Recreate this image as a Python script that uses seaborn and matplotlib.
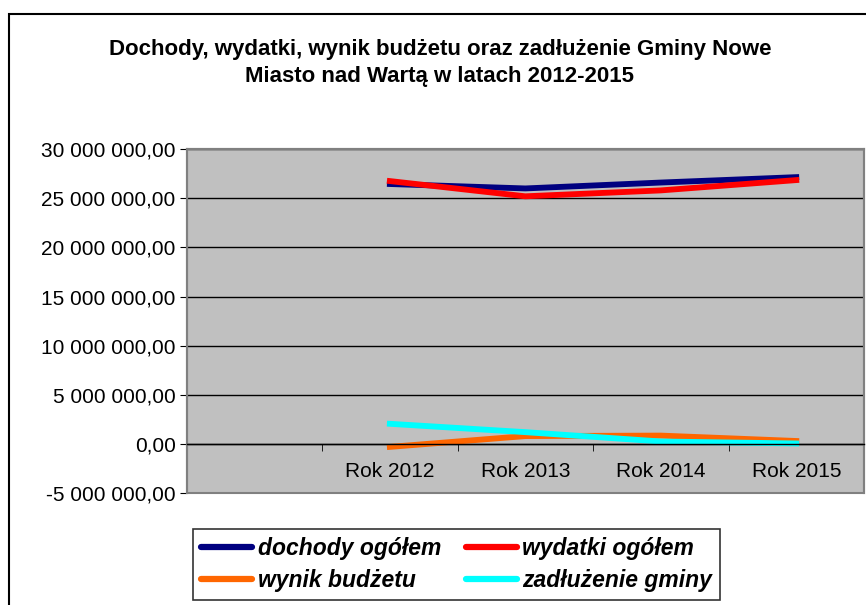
import numpy as np
import pandas as pd
import matplotlib
matplotlib.use("Agg")
import matplotlib.pyplot as plt
from matplotlib.patches import Rectangle
from matplotlib.ticker import FuncFormatter, FixedLocator
import seaborn as sns

# --- dane ---
lata = ["Rok 2012", "Rok 2013", "Rok 2014", "Rok 2015"]
dochody = [26.45e6, 26.0e6, 26.6e6, 27.15e6]
wydatki = [26.75e6, 25.2e6, 25.8e6, 26.85e6]
wynik = [-0.3e6, 0.8e6, 0.85e6, 0.3e6]
zadluzenie = [2.05e6, 1.2e6, 0.25e6, 0.05e6]

serie = ["dochody ogółem", "wydatki ogółem", "wynik budżetu", "zadłużenie gminy"]
kolory = {"dochody ogółem": "#000080", "wydatki ogółem": "#FF0000",
          "wynik budżetu": "#FF6600", "zadłużenie gminy": "#00FFFF"}
tytul = "Dochody, wydatki, wynik budżetu oraz zadłużenie Gminy Nowe\nMiasto nad Wartą w latach 2012-2015"

# pierwsza kategoria pusta, jak w Excelu
kolejnosc = [""] + lata

df = pd.DataFrame({
    "rok": lata * 4,
    "wartosc": dochody + wydatki + wynik + zadluzenie,
    "seria": np.repeat(serie, len(lata)),
})

plt.rcParams["font.family"] = ["Liberation Sans", "DejaVu Sans"]

fig = plt.figure(figsize=(8.66, 6.05), dpi=100)
ax = fig.add_axes([0.2155, 0.185, 0.7822, 0.5685])
ax.set_facecolor("#C0C0C0")

sns.pointplot(data=df, x="rok", y="wartosc", hue="seria", order=kolejnosc,
              hue_order=serie, palette=kolory, markers="", markersize=0,
              errorbar=None, dodge=False, linewidth=4.2, legend=False, ax=ax)

ax.set_ylim(-5e6, 30e6)
ax.set_xlim(-0.5, len(kolejnosc) - 0.5)
ax.set_yticks(np.arange(-5e6, 30e6 + 1, 5e6))
ax.yaxis.set_major_formatter(FuncFormatter(
    lambda v, p: f"{v:,.2f}".replace(",", " ").replace(".", ",")))
ax.grid(axis="y", color="black", linewidth=1)
ax.set_axisbelow(True)

# os kategorii przy zerze, kreski miedzy kategoriami
ax.spines["bottom"].set_position(("data", 0))
ax.spines["bottom"].set_color("black")
ax.spines["bottom"].set_linewidth(1)
for s in ["top", "right", "left"]:
    ax.spines[s].set_color("#808080")
    ax.spines[s].set_linewidth(1.5)
ax.add_patch(Rectangle((0, 0), 1, 1, transform=ax.transAxes, fill=False,
                       edgecolor="#808080", linewidth=1.5, clip_on=False))

ax.xaxis.set_minor_locator(FixedLocator(np.arange(len(kolejnosc) + 1) - 0.5))
ax.tick_params(axis="x", which="minor", length=5, color="black", direction="out")
ax.tick_params(axis="x", which="major", length=0, pad=13, labelsize=15)
ax.tick_params(axis="y", length=5, color="black", labelsize=15, pad=3)
ax.set_xlabel("")
ax.set_ylabel("")

fig.text(0.508, 0.896, tytul, ha="center", va="center", fontsize=16,
         fontweight="bold", linespacing=1.4)

# ramka calego wykresu
fig.add_artist(Rectangle((0.0104, -0.1), 1.5, 1.077, transform=fig.transFigure,
                         fill=False, edgecolor="black", linewidth=1.5))

# legenda (wypelnianie kolumnami -> kolejnosc wierszami)
uchwyty = [plt.Line2D([], [], color=kolory[s], linewidth=4.5,
                      solid_capstyle="round") for s in serie]
idx = [0, 2, 1, 3]
leg = fig.legend([uchwyty[i] for i in idx], [serie[i] for i in idx],
                 ncol=2, loc="center", bbox_to_anchor=(0.5275, 0.0675),
                 frameon=True, fancybox=False, edgecolor="black",
                 prop={"weight": "bold", "style": "italic", "size": 16.5},
                 handlelength=2.2, handletextpad=0.25, columnspacing=1.1,
                 labelspacing=0.4, borderpad=0.35)
leg.get_frame().set_linewidth(1.2)

fig.savefig("out.png", dpi=100)
